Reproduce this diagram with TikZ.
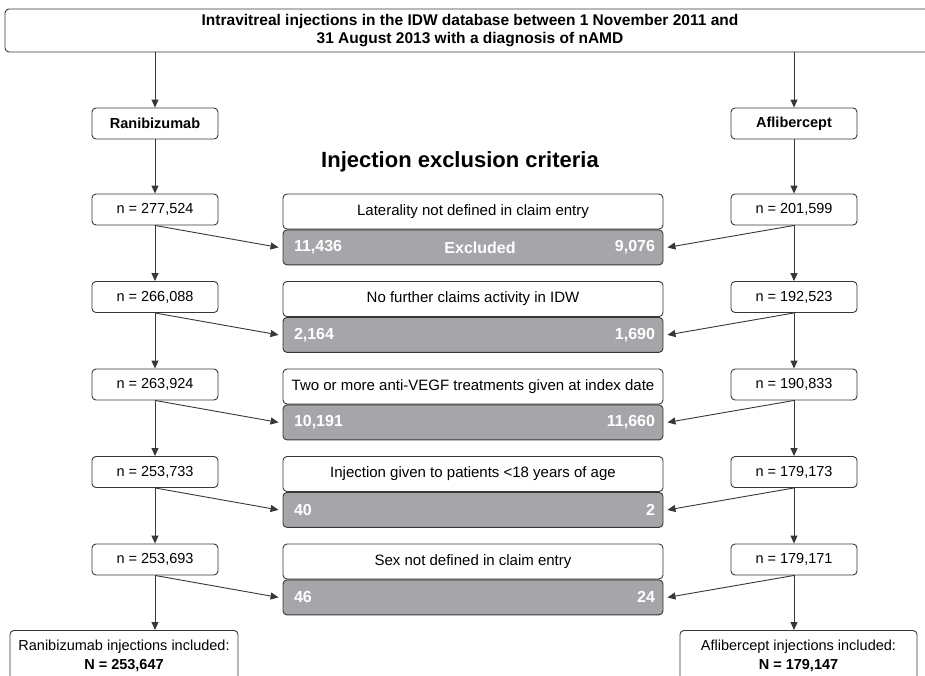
\documentclass[tikz,border=0pt]{standalone}
\usepackage{fontspec}
\setmainfont{Liberation Sans}
\usetikzlibrary{shapes,arrows.meta,positioning}
\definecolor{exgray}{RGB}{166,166,170}
\definecolor{linegray}{RGB}{55,55,55}

\begin{document}
\begin{tikzpicture}[x=1pt, y=-1pt, ->, >={Triangle[length=8pt,width=7pt]},
    node distance=87.5pt, line width=0.9pt, draw=linegray,
    box/.style={draw=linegray, rounded corners=4pt, minimum width=126pt,
      minimum height=31pt, inner sep=0pt, font=\fontsize{14.5}{17}\selectfont},
    crit/.style={draw=linegray, rounded corners=4pt, minimum width=380pt,
      minimum height=35pt, inner sep=0pt, font=\fontsize{15}{17}\selectfont},
    excl/.style={crit, fill=exgray, anchor=north},
    num/.style={text=white, inner sep=0pt, font=\fontsize{16}{18}\selectfont\bfseries}]
\useasboundingbox (0,0) rectangle (925,675);

\node (top) [draw=linegray, rounded corners=4pt, minimum width=930pt, minimum height=43pt,
  align=center, font=\fontsize{15.5}{18}\selectfont\bfseries] at (470,30.5)
  {Intravitreal injections in the IDW database between 1 November 2011 and\\
   31 August 2013 with a diagnosis of nAMD};

\node (rani) [box, font=\fontsize{14.5}{17}\selectfont\bfseries] at (155,123.5) {Ranibizumab};
\node (afli) [box, font=\fontsize{14.5}{17}\selectfont\bfseries] at (794,123.5) {Aflibercept};
\node (title) [font=\fontsize{22}{26}\selectfont\bfseries] at (460,162) {Injection exclusion criteria};

% ranibizumab column
\node (r1) [box] at (155,209.5) {n = 277,524};
\node (r2) [box, below of=r1] {n = 266,088};
\node (r3) [box, below of=r2] {n = 263,924};
\node (r4) [box, below of=r3] {n = 253,733};
\node (r5) [box, below of=r4] {n = 253,693};

% aflibercept column
\node (a1) [box] at (794,209.5) {n = 201,599};
\node (a2) [box, below of=a1] {n = 192,523};
\node (a3) [box, below of=a2] {n = 190,833};
\node (a4) [box, below of=a3] {n = 179,173};
\node (a5) [box, below of=a4] {n = 179,171};

% criteria
\node (c1) [crit] at (473,211.5) {Laterality not defined in claim entry};
\node (c2) [crit, below of=c1] {No further claims activity in IDW};
\node (c3) [crit, below of=c2] {Two or more anti-VEGF treatments given at index date};
\node (c4) [crit, below of=c3] {Injection given to patients <18 years of age};
\node (c5) [crit, below of=c4] {Sex not defined in claim entry};

\node (x1) [excl] at (c1.south) {};
\node (x2) [excl] at (c2.south) {};
\node (x3) [excl] at (c3.south) {};
\node (x4) [excl] at (c4.south) {};
\node (x5) [excl] at (c5.south) {};

\node (x1l) [num, anchor=west] at ([xshift=11pt]x1.west) {11,436};
\node (x1m) [num] at (480,248) {Excluded};
\node (x1r) [num, anchor=east] at ([xshift=-8pt]x1.east) {9,076};
\node (x2l) [num, anchor=west] at ([xshift=11pt]x2.west) {2,164};
\node (x2r) [num, anchor=east] at ([xshift=-8pt]x2.east) {1,690};
\node (x3l) [num, anchor=west] at ([xshift=11pt]x3.west) {10,191};
\node (x3r) [num, anchor=east] at ([xshift=-8pt]x3.east) {11,660};
\node (x4l) [num, anchor=west] at ([xshift=11pt]x4.west) {40};
\node (x4r) [num, anchor=east] at ([xshift=-8pt]x4.east) {2};
\node (x5l) [num, anchor=west] at ([xshift=11pt]x5.west) {46};
\node (x5r) [num, anchor=east] at ([xshift=-8pt]x5.east) {24};

% included
\node (rfin) [draw=linegray, rounded corners=4pt, minimum width=228pt, minimum height=50pt,
  anchor=north, align=center, inner sep=0pt, font=\fontsize{14.5}{19}\selectfont] at (124,630)
  {Ranibizumab injections included:\\\textbf{N = 253,647}};
\node (afin) [draw=linegray, rounded corners=4pt, minimum width=237pt, minimum height=50pt,
  anchor=north, align=center, inner sep=0pt, font=\fontsize{14.5}{19}\selectfont] at (798.5,630)
  {Aflibercept injections included:\\\textbf{N = 179,147}};

\draw (rani |- top.south) -- (rani);
\draw (afli |- top.south) -- (afli);
\path (rani) edge (r1);
\path (afli) edge (a1);

\path (r1) edge (r2) (r2) edge (r3) (r3) edge (r4) (r4) edge (r5);
\path (a1) edge (a2) (a2) edge (a3) (a3) edge (a4) (a4) edge (a5);
\draw (r5.south) -- (r5.south |- rfin.north);
\draw (a5.south) -- (a5.south |- afin.north);

\foreach \i in {1,...,5} {
  \draw (r\i.south) -- ([xshift=-4pt]x\i.west);
  \draw (a\i.south) -- ([xshift=4pt]x\i.east);
}
\end{tikzpicture}
\end{document}
